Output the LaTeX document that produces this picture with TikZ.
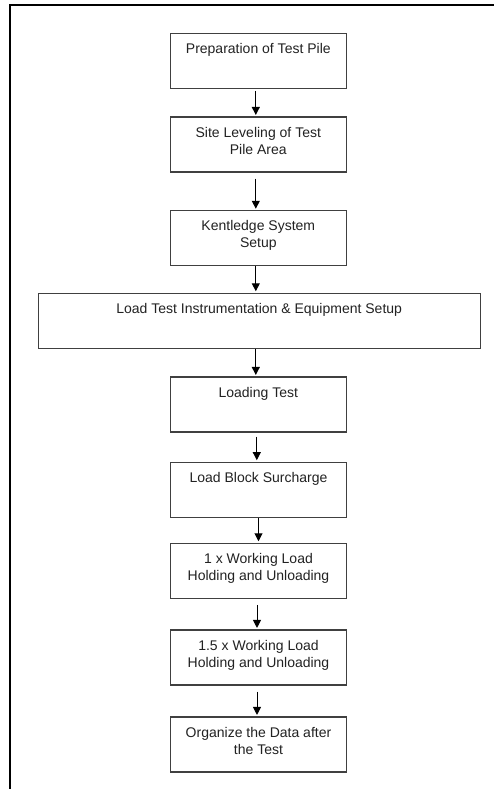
\documentclass[tikz,border=0pt]{standalone}
\usepackage{fontspec}
\setmainfont{Liberation Sans}
\usetikzlibrary{arrows.meta}
\definecolor{boxline}{HTML}{404040}
\definecolor{txt}{HTML}{222222}
\newcommand\boxtext[2]{\parbox[c][55pt][t]{#1}{\centering\fontsize{14}{17}\selectfont\rule{0pt}{20pt}#2}}
\tikzset{
  stepbox/.style={draw=boxline, line width=1.1pt, inner sep=0pt, text=txt, fill=white},
  flow/.style={line width=1pt, -{Triangle[length=8pt,width=8pt]}, shorten >=1.5pt},
  frame/.style={line width=2.4pt, black}
}
\begin{document}
\begin{tikzpicture}[x=1pt,y=-1pt]
\useasboundingbox (0,0) rectangle (494,789);
\coordinate (fa) at (10,789);
\coordinate (fb) at (10,5);
\coordinate (fc) at (494,5);
\draw[frame, line join=miter] (fa) -- (fb) -- (fc);

\node[stepbox] (b1) at (258.3,60.8) {\boxtext{176pt}{Preparation of Test Pile}};
\node[stepbox] (b2) at (258.3,144.5) {\boxtext{176pt}{Site Leveling of Test\\Pile Area}};
\node[stepbox] (b3) at (258.3,238.3) {\boxtext{176pt}{Kentledge System\\Setup}};
\node[stepbox] (b4) at (259.2,320.8) {\boxtext{441.7pt}{Load Test Instrumentation \& Equipment Setup}};
\node[stepbox] (b5) at (258.3,404.5) {\boxtext{176pt}{Loading Test}};
\node[stepbox] (b6) at (258.5,489.7) {\boxtext{176pt}{Load Block Surcharge}};
\node[stepbox] (b7) at (258.5,570.8) {\boxtext{176pt}{1 x Working Load\\Holding and Unloading}};
\node[stepbox] (b8) at (258.5,657.5) {\boxtext{176pt}{1.5 x Working Load\\Holding and Unloading}};
\node[stepbox] (b9) at (258.5,744.5) {\boxtext{176pt}{Organize the Data after\\the Test}};

\draw[flow, shorten <=2pt] ([xshift=-2.5pt]b1.south) -- ([xshift=-2.5pt]b1.south |- b2.north);
\draw[flow, shorten <=6pt] ([xshift=-2.5pt]b2.south) -- ([xshift=-2.5pt]b2.south |- b3.north);
\draw[flow] ([xshift=-2.5pt]b3.south) -- ([xshift=-2.5pt]b3.south |- b4.north);
\draw[flow] ([xshift=-2.5pt]b5.north |- b4.south) -- ([xshift=-2.5pt]b5.north);
\draw[flow, shorten <=4pt] ([xshift=-1.5pt]b5.south) -- ([xshift=-1.5pt]b5.south |- b6.north);
\draw[flow] (b6.south) -- (b6.south |- b7.north);
\draw[flow, shorten <=6pt] ([xshift=-1.5pt]b7.south) -- ([xshift=-1.5pt]b7.south |- b8.north);
\draw[flow, shorten <=6pt] ([xshift=-1.5pt]b8.south) -- ([xshift=-1.5pt]b8.south |- b9.north);
\end{tikzpicture}
\end{document}
